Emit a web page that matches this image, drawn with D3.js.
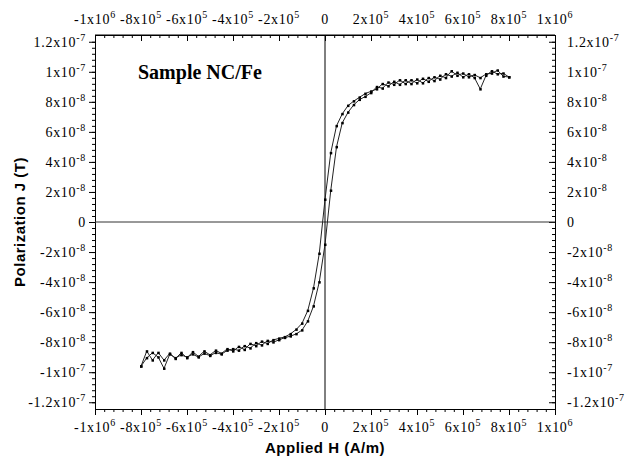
<!DOCTYPE html>
<html>
<head>
<meta charset="utf-8">
<script src="https://cdn.jsdelivr.net/npm/d3@7"></script>
<style>
  body { margin: 0; background: #fff; }
  svg { display: block; }
</style>
</head>
<body>
<svg id="drawing_region"></svg>
<script>
// applied field H (A/m), same grid for both branches
const hField = [-800000,-775000,-750000,-725000,-700000,-675000,-650000,-625000,-600000,-575000,
  -550000,-525000,-500000,-475000,-450000,-425000,-400000,-375000,-350000,-325000,
  -300000,-275000,-250000,-225000,-200000,-175000,-150000,-125000,-100000,-75000,
  -50000,-25000,0,25000,50000,75000,100000,125000,150000,175000,
  200000,225000,250000,275000,300000,325000,350000,375000,400000,425000,
  450000,475000,500000,525000,550000,575000,600000,625000,650000,675000,
  700000,725000,750000,775000,800000];

// polarization J in units of 1e-8 T
const jDown = [-9.6,-8.6,-9.2,-8.7,-9.2,-8.75,-9.1,-8.7,-9.05,-8.65,
  -8.95,-8.6,-8.85,-8.55,-8.75,-8.45,-8.6,-8.3,-8.5,-8.1,
  -8.25,-7.95,-8.1,-7.85,-7.75,-7.65,-7.45,-7.15,-6.75,-5.9,
  -4.4,-2.1,1.5,4.6,6.4,7.2,7.75,8.05,8.3,8.55,
  8.7,8.85,9.2,9.05,9.35,9.15,9.45,9.2,9.5,9.25,
  9.6,9.4,9.75,9.6,10.05,9.75,9.9,9.65,9.8,9.6,
  9.85,9.9,10.1,9.7,9.65];
const jUp = [-9.6,-9.05,-8.7,-9.0,-9.75,-8.8,-9.05,-8.85,-9.0,-8.8,
  -9.0,-8.75,-8.9,-8.7,-8.8,-8.55,-8.45,-8.55,-8.25,-8.4,
  -8.05,-8.2,-7.9,-8.0,-7.85,-7.7,-7.6,-7.45,-7.2,-6.6,
  -5.6,-4.0,-1.5,2.1,5.0,6.6,7.3,7.8,8.15,8.35,
  8.6,9.0,8.9,9.3,9.15,9.45,9.2,9.45,9.25,9.55,
  9.35,9.65,9.5,9.85,9.7,9.95,9.65,9.85,9.6,8.85,
  9.75,10.05,9.85,9.9,9.65];

const xTicks = [-1e6,-8e5,-6e5,-4e5,-2e5,0,2e5,4e5,6e5,8e5,1e6];
const xTickLabels = ["-1x10^6","-8x10^5","-6x10^5","-4x10^5","-2x10^5","0",
  "2x10^5","4x10^5","6x10^5","8x10^5","1x10^6"];
const yTicks = [-12,-10,-8,-6,-4,-2,0,2,4,6,8,10,12];
const yTickLabels = ["-1.2x10^-7","-1x10^-7","-8x10^-8","-6x10^-8","-4x10^-8","-2x10^-8","0",
  "2x10^-8","4x10^-8","6x10^-8","8x10^-8","1x10^-7","1.2x10^-7"];

const width = 635;
const height = 461;
const margin = {top:35, right:80, bottom:52, left:95};
const inner_width = width - margin.left - margin.right;
const inner_height = height - margin.top - margin.bottom;

const svg = d3.select('#drawing_region')
    .attr('width', width)
    .attr('height', height);
const chart = svg.append('g')
    .attr('transform', `translate(${margin.left}, ${margin.top})`);

const xscale = d3.scaleLinear().domain([-1e6, 1e6]).range([0, inner_width]);
const yscale = d3.scaleLinear().domain([-12.45, 12.45]).range([inner_height, 0]);

const xMinor = d3.range(-1e6, 1e6 + 1, 4e4);
const yMinor = d3.range(-12, 12.01, 0.4);

function styleAxis(g) {
  g.selectAll('path, line').attr('stroke', '#000').attr('stroke-width', 1);
  g.selectAll('text').remove();
}

// ticks: left/bottom point outward, top/right point inward
const axes = [
  {gen: d3.axisBottom, t: `translate(0, ${inner_height})`, s: xscale, v: xTicks, m: xMinor},
  {gen: d3.axisBottom, t: `translate(0, 0)`, s: xscale, v: xTicks, m: xMinor},
  {gen: d3.axisLeft, t: `translate(0, 0)`, s: yscale, v: yTicks, m: yMinor},
  {gen: d3.axisLeft, t: `translate(${inner_width}, 0)`, s: yscale, v: yTicks, m: yMinor},
];
axes.forEach(a => {
  chart.append('g').attr('transform', a.t)
      .call(a.gen(a.s).tickValues(a.m).tickSize(3).tickSizeOuter(0).tickFormat(''))
      .call(styleAxis);
  chart.append('g').attr('transform', a.t)
      .call(a.gen(a.s).tickValues(a.v).tickSize(6).tickSizeOuter(0).tickFormat(''))
      .call(styleAxis);
});
// top axis line
chart.append('line').attr('x1', 0).attr('x2', inner_width).attr('y1', 0).attr('y2', 0)
    .attr('stroke', '#000');

// zero lines
chart.append('line')
    .attr('x1', 0).attr('x2', inner_width)
    .attr('y1', yscale(0)).attr('y2', yscale(0))
    .attr('stroke', '#333');
chart.append('line')
    .attr('x1', xscale(0)).attr('x2', xscale(0))
    .attr('y1', 0).attr('y2', inner_height)
    .attr('stroke', '#000');

function putLabel(sel, s) {
  const parts = s.split('^');
  sel.append('tspan').text(parts[0]);
  if (parts[1]) sel.append('tspan').attr('dy', -6).attr('font-size', 10).text(parts[1]);
}

const tickFont = {family: "'Liberation Serif', 'DejaVu Serif', serif", size: 14};

function tickText(g, x, y, anchor, s) {
  g.append('text')
      .attr('x', x).attr('y', y)
      .attr('text-anchor', anchor)
      .attr('font-family', tickFont.family)
      .attr('font-size', tickFont.size)
      .attr('letter-spacing', '0.7px')
      .attr('fill', '#000')
      .call(t => putLabel(t, s));
}

xTicks.forEach((v, i) => {
  tickText(chart, xscale(v), -11, 'middle', xTickLabels[i]);
  tickText(chart, xscale(v), inner_height + 23, 'middle', xTickLabels[i]);
});
yTicks.forEach((v, i) => {
  tickText(chart, -9, yscale(v) + 5, 'end', yTickLabels[i]);
  tickText(chart, inner_width + 12, yscale(v) + 5, 'start', yTickLabels[i]);
});

// axis titles
svg.append('text')
    .attr('transform', `translate(25, 222) rotate(-90)`)
    .attr('text-anchor', 'middle')
    .attr('font-family', "'Liberation Sans', Arial, sans-serif")
    .attr('font-weight', 'bold')
    .attr('font-size', 15)
    .attr('letter-spacing', '0.5px')
    .text('Polarization J (T)');
svg.append('text')
    .attr('x', 325).attr('y', 453)
    .attr('text-anchor', 'middle')
    .attr('font-family', "'Liberation Sans', Arial, sans-serif")
    .attr('font-weight', 'bold')
    .attr('font-size', 15)
    .attr('letter-spacing', '0.5px')
    .text('Applied H (A/m)');
svg.append('text')
    .attr('x', 138).attr('y', 79)
    .attr('font-family', "'Liberation Serif', 'Times New Roman', serif")
    .attr('font-weight', 'bold')
    .attr('font-size', 20)
    .text('Sample NC/Fe');

// the two branches of the loop
const line = d3.line()
    .x(d => xscale(d[0]))
    .y(d => yscale(d[1]));
[jDown, jUp].forEach(branch => {
  const pts = hField.map((h, i) => [h, branch[i]]);
  chart.append('path')
      .datum(pts)
      .attr('fill', 'none')
      .attr('stroke', '#222')
      .attr('stroke-width', 1)
      .attr('d', line);
  chart.selectAll(null).data(pts).enter()
      .append('rect')
      .attr('x', d => xscale(d[0]) - 1)
      .attr('y', d => yscale(d[1]) - 1)
      .attr('width', 2.5)
      .attr('height', 2.5)
      .attr('fill', '#000');
});
</script>
</body>
</html>
